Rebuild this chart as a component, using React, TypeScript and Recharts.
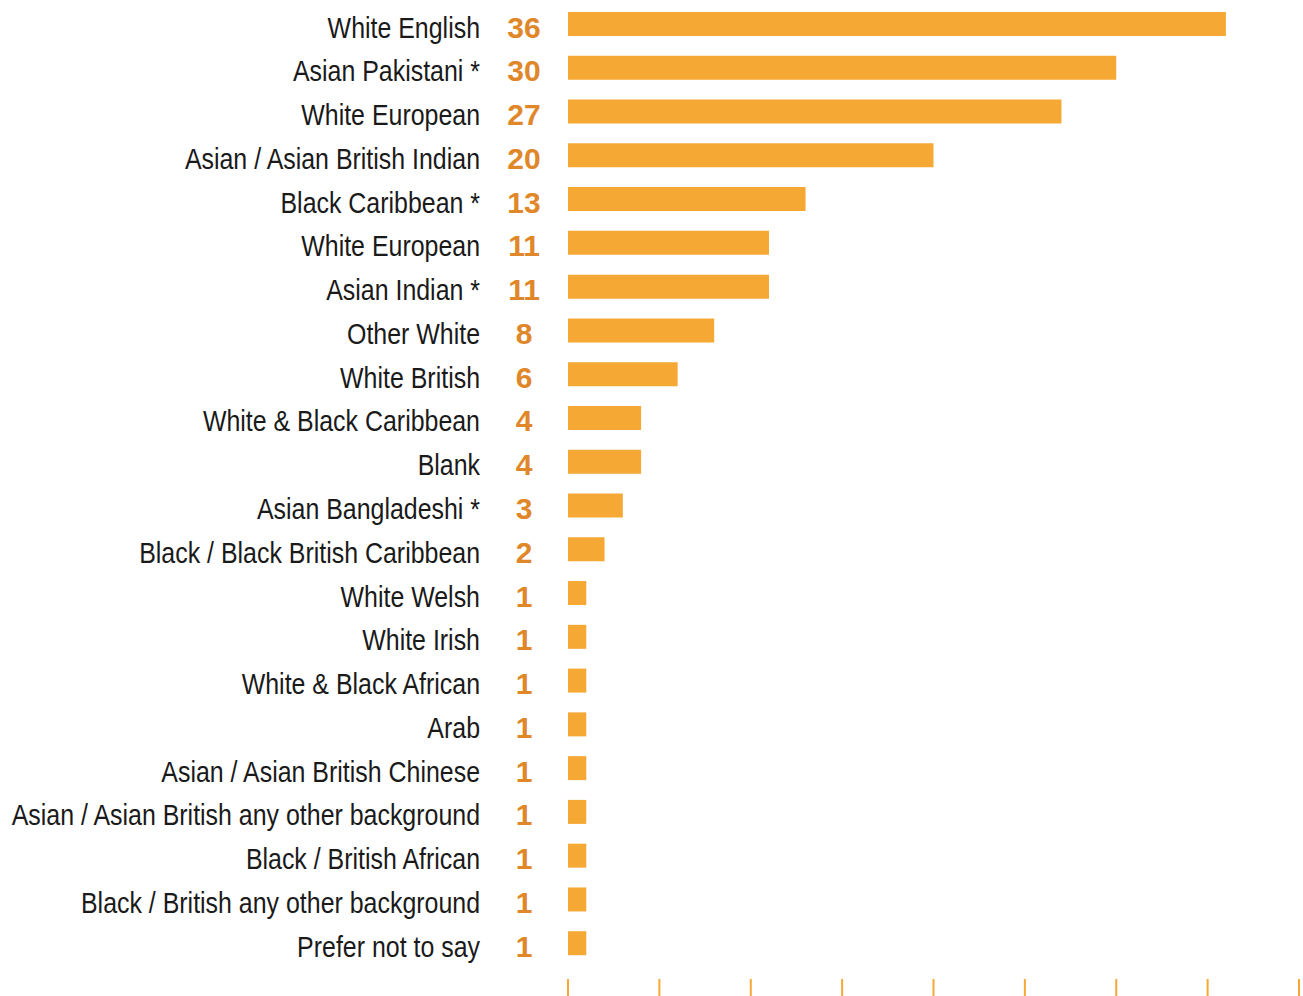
// Ethnicity breakdown — horizontal bar chart with counts shown beside each label.

import { Bar, BarChart, LabelList, XAxis, YAxis } from 'recharts';

const categories = [
  'White English',
  'Asian Pakistani *',
  'White European',
  'Asian / Asian British Indian',
  'Black Caribbean *',
  'White European',
  'Asian Indian *',
  'Other White',
  'White British',
  'White & Black Caribbean',
  'Blank',
  'Asian Bangladeshi *',
  'Black / Black British Caribbean',
  'White Welsh',
  'White Irish',
  'White & Black African',
  'Arab',
  'Asian / Asian British Chinese',
  'Asian / Asian British any other background',
  'Black / British African',
  'Black / British any other background',
  'Prefer not to say',
];

const counts = [36, 30, 27, 20, 13, 11, 11, 8, 6, 4, 4, 3, 2, 1, 1, 1, 1, 1, 1, 1, 1, 1];

const xTicks = [0, 5, 10, 15, 20, 25, 30, 35, 40];

const COLORS = {
  bar: '#F5A834',
  value: '#E0872A',
  tick: '#F5A834',
  text: '#1A1A1A',
};

const FONT = '"Liberation Sans", Arial, sans-serif';

const data = categories.map((name, i) => ({ key: `${i}`, name, count: counts[i] }));

function CategoryTick(props: any) {
  const { x, y, payload } = props;
  const label = categories[payload.index] ?? payload.value;
  return (
    <g transform={`translate(${x - 88},${y})`}>
      <text
        transform="scale(0.86,1)"
        textAnchor="end"
        dy="0.47em"
        fill={COLORS.text}
        fontSize={29}
        fontFamily={FONT}
      >
        {label}
      </text>
    </g>
  );
}

function ValueLabel(props: any) {
  const { x, y, height, value } = props;
  return (
    <text
      x={x - 44}
      y={y + height / 2}
      dy="0.45em"
      textAnchor="middle"
      fill={COLORS.value}
      fontSize={30}
      fontWeight="bold"
      fontFamily={FONT}
    >
      {value}
    </text>
  );
}

// tick marks only, no numbers under them
const NoLabel = () => <g />;

export default function App() {
  return (
    <div style={{ position: 'absolute', left: 0, top: 0, background: '#fff' }}>
      <BarChart
        width={1303}
        height={996}
        data={data}
        layout="vertical"
        margin={{ top: 2, right: 4, bottom: 0, left: 0 }}
        barCategoryGap={0}
      >
        <XAxis
          type="number"
          domain={[0, 40]}
          ticks={xTicks}
          axisLine={false}
          tick={<NoLabel />}
          tickLine={{ stroke: COLORS.tick, strokeWidth: 2 }}
          tickSize={17}
          height={17}
          interval={0}
        />
        <YAxis
          type="category"
          dataKey="key"
          width={568}
          axisLine={false}
          tickLine={false}
          tickSize={0}
          tickMargin={0}
          interval={0}
          padding={{ top: 0, bottom: 14 }}
          tick={<CategoryTick />}
        />
        <Bar dataKey="count" fill={COLORS.bar} barSize={24} isAnimationActive={false}>
          <LabelList dataKey="count" content={<ValueLabel />} />
        </Bar>
      </BarChart>
    </div>
  );
}
